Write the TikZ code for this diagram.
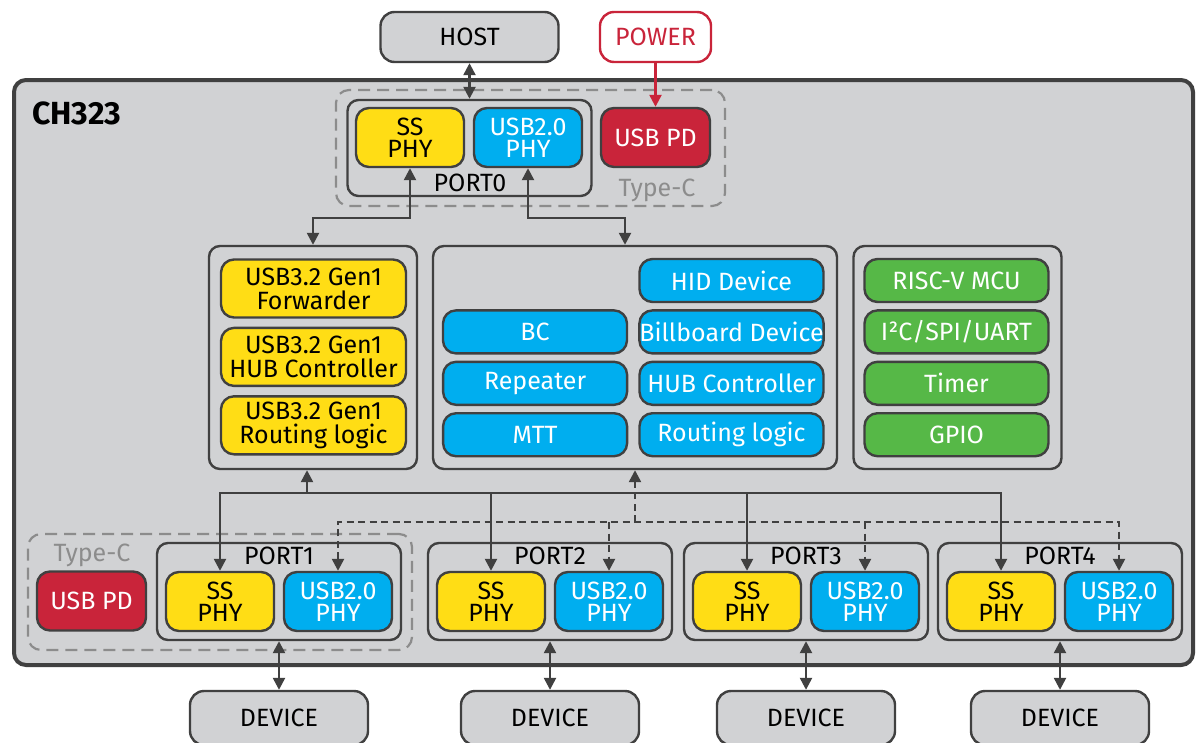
\documentclass[tikz,border=0pt]{standalone}
\usepackage{fontspec}
\setmainfont{Fira Sans}
\usetikzlibrary{arrows.meta, positioning}
\definecolor{cbg}{HTML}{D1D2D4}
\definecolor{cline}{HTML}{404040}
\definecolor{cyel}{HTML}{FFDD15}
\definecolor{cblue}{HTML}{00AEEF}
\definecolor{cgrn}{HTML}{56B847}
\definecolor{cred}{HTML}{C9243A}
\definecolor{cdash}{HTML}{8C8C8C}

\begin{document}
\begin{tikzpicture}[
  x=1pt, y=-1pt,
  font=\fontsize{25}{24}\selectfont,
  >={Triangle[length=12pt, width=12pt]},
  node distance=6pt,
  box/.style={draw=cline, line width=2.4pt, rounded corners=13pt, align=center, inner sep=0pt},
  ext/.style={box, fill=cbg, rounded corners=14pt, minimum width=178pt, minimum height=50pt},
  grp/.style={box, rounded corners=11pt, minimum width=208pt, minimum height=223pt},
  phy/.style={box, minimum width=108pt, minimum height=59pt, font=\fontsize{25}{22}\selectfont},
  ss/.style={phy, fill=cyel},
  hs/.style={phy, fill=cblue, text=white},
  pd/.style={box, fill=cred, text=white, minimum width=109pt, minimum height=59pt},
  yel/.style={box, fill=cyel, minimum width=185pt, minimum height=58pt},
  blu/.style={box, fill=cblue, text=white, minimum width=184pt, minimum height=43pt},
  grn/.style={box, fill=cgrn, text=white, minimum width=184pt, minimum height=43pt},
  port/.style={box, rounded corners=11pt, minimum width=244pt, minimum height=97pt},
  typec/.style={draw=cdash, line width=2.2pt, dash pattern=on 12pt off 7pt, rounded corners=13pt, minimum height=116pt},
  lbl/.style={inner sep=0pt},
  arr/.style={line width=2.4pt, cline},
  darr/.style={arr, dash pattern=on 7pt off 4.5pt},
]
\useasboundingbox (0,0) rectangle (1196,742);

% chip outline
\node[box, line width=4pt, fill=cbg, rounded corners=12pt, minimum width=1179pt, minimum height=585pt] (chip) at (603.5,372.5) {};
\node[lbl, anchor=base west, font=\fontsize{32}{32}\selectfont\bfseries] (chipname) at (32,124) {CH323};

% host side
\node[ext] (host) at (469.5,37) {HOST};
\node[box, draw=cred, fill=white, text=cred, rounded corners=14pt, minimum width=111pt, minimum height=50pt] (power) at (655.5,37) {POWER};
\node[typec, minimum width=389pt] (tc0) at (530.5,148) {};
\node[port, minimum height=96pt] (port0) at (469.5,148) {};
\node[ss] (ss0) at (410,137.5) {SS\\PHY};
\node[hs] (hs0) at (528,137.5) {USB2.0\\PHY};
\node[pd] (pd0) at (655.5,137.5) {USB PD};
\node[lbl] (pn0) at (470,183) {PORT0};
\node[lbl, anchor=base, text=cdash] (tcn0) at (657,196) {Type-C};

% USB3 group
\node[grp] (grpy) at (313,357.5) {};
\node[yel] (fwd) at (313.5,288.5) {USB3.2 Gen1\\Forwarder};
\node[yel, below=8pt of fwd] (hub3) {USB3.2 Gen1\\HUB Controller};
\node[yel, below=8pt of hub3] (rt3) {USB3.2 Gen1\\Routing logic};

% USB2 group
\node[grp, minimum width=404pt] (grpm) at (635,357.5) {};
\node[blu] (hid) at (731.5,280.5) {HID Device};
\node[blu, below=of hid] (bill) {Billboard Device};
\node[blu, below=of bill] (hubc) {HUB Controller};
\node[blu, below=of hubc] (rlog) {Routing logic};
\node[blu, left=10pt of bill] (bc) {BC};
\node[blu, left=10pt of hubc] (rep) {Repeater};
\node[blu, left=10pt of rlog] (mtt) {MTT};

% MCU group
\node[grp] (grpc) at (957.5,357.5) {};
\node[grn] (mcu) at (956.5,280.5) {RISC-V MCU};
\node[grn, below=of mcu] (ser) {I²C/SPI/UART};
\node[grn, below=of ser] (tmr) {Timer};
\node[grn, below=of tmr] (gpio) {GPIO};

% downstream ports
\node[typec, minimum width=384pt] (tc1) at (220,592) {};
\node[pd] (pd1) at (91.5,601) {USB PD};
\node[lbl, anchor=base, text=cdash] (tcn1) at (92,561) {Type-C};
\foreach \i/\x in {1/279, 2/550, 3/806, 4/1060}{
  \node[port] (p\i) at (\x,591.5) {};
  \node[lbl, below=5pt of p\i.north] (pn\i) {PORT\i};
  \node[ss] (ss\i) at ([xshift=-59pt, yshift=-10pt]p\i.center) {SS\\PHY};
  \node[hs] (hs\i) at ([xshift=59pt, yshift=-10pt]p\i.center) {USB2.0\\PHY};
  \node[ext, minimum height=54pt] (dev\i) at (\x,718) {DEVICE};
  \draw[arr, <->] (p\i.south) -- (dev\i.north);
}

% upstream links
\coordinate (tbus) at (0,218);
\draw[arr, <->] (host) -- (port0);
\draw[line width=2.4pt, cred, ->] (power) -- (pd0);
\draw[arr, <->] (ss0.south) -- (ss0.south |- tbus) -| (grpy.north);
\coordinate (mup) at ([xshift=-10pt]grpm.north);
\draw[arr, <->] (hs0.south) -- (hs0.south |- tbus) -| (mup);

% downstream buses
\coordinate (sbus) at (0,493);
\coordinate (dbus) at (0,522);
\coordinate (yup) at ([xshift=-6pt]grpy.south);
\draw[arr, <->] (ss1.north) -- (ss1.north |- sbus) -- (ss4.north |- sbus) -- (ss4.north);
\draw[arr, ->] (ss2.north |- sbus) -- (ss2.north);
\draw[arr, ->] (ss3.north |- sbus) -- (ss3.north);
\draw[arr, ->] (yup |- sbus) -- (yup);
\draw[darr, <->] (hs1.north) -- (hs1.north |- dbus) -- (hs4.north |- dbus) -- (hs4.north);
\draw[darr, ->] (hs2.north |- dbus) -- (hs2.north);
\draw[darr, ->] (hs3.north |- dbus) -- (hs3.north);
\draw[darr, ->] (grpm.south |- dbus) -- (grpm.south);
\end{tikzpicture}
\end{document}
